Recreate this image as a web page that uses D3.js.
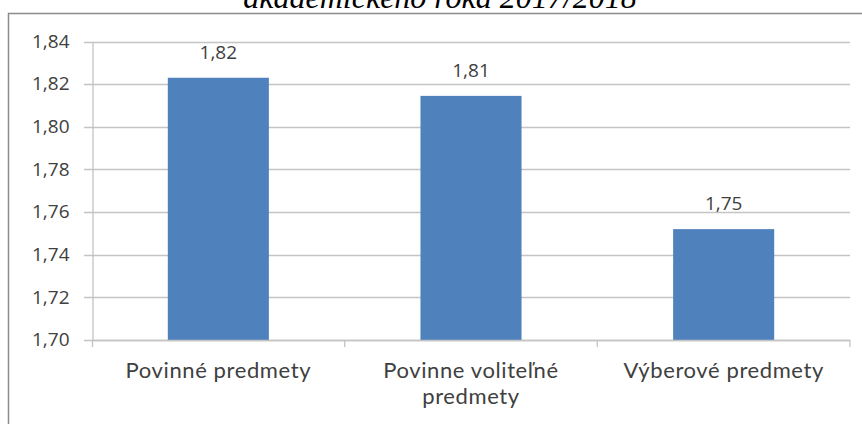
<!DOCTYPE html>
<html><head><meta charset="utf-8">
<script src="https://cdn.jsdelivr.net/npm/d3@7"></script>
<style>body{margin:0;background:#fff}svg{display:block}</style>
</head><body>
<svg id="c" width="862" height="424"></svg>
<script>
const categories = [["Povinné predmety"], ["Povinne voliteľné", "predmety"], ["Výberové predmety"]];
const values = [1.823, 1.8145, 1.752];
const valueLabels = ["1,82", "1,81", "1,75"];
const yTicks = [1.70, 1.72, 1.74, 1.76, 1.78, 1.80, 1.82, 1.84];
const title = "akademického roka 2017/2018";

const svg = d3.select("#c");
const fmt = d => d.toFixed(2).replace(".", ",");
const mLeft = 92, mRight = 850, mTop = 41.5, mBottom = 340;
const font = "'Open Sans', sans-serif";
const x = d3.scaleBand().domain(d3.range(values.length)).range([mLeft, mRight]).paddingInner(0.6).paddingOuter(0.3);
const y = d3.scaleLinear().domain([1.70, 1.84]).range([mBottom, mTop]);

// title (cropped at top)
svg.append("text").attr("x", 440).attr("y", 7.5).attr("text-anchor", "middle")
  .attr("font-family", "Liberation Serif").attr("font-style", "italic").attr("font-size", 32)
  .attr("fill", "#000").text(title);

// chart border
svg.append("path").attr("d", `M8.5,424 V13.5 H862`).attr("fill", "none").attr("stroke", "#8c8c8c").attr("stroke-width", 1.5);

// gridlines
svg.append("g").selectAll("line").data(yTicks).join("line")
  .attr("x1", 84).attr("x2", mRight).attr("y1", d => Math.round(y(d)) + 0.5).attr("y2", d => Math.round(y(d)) + 0.5)
  .attr("stroke", "#c4c4c4").attr("stroke-width", 1.3);

// y axis
const ya = svg.append("g").attr("transform", `translate(${mLeft + 0.5},0)`)
  .call(d3.axisLeft(y).tickValues(yTicks).tickFormat(fmt).tickSize(0).tickPadding(23));
ya.select(".domain").attr("stroke", "#c4c4c4").attr("stroke-width", 1.3);
ya.selectAll("text").attr("font-family", font).attr("font-size", 19).attr("fill", "#404040").attr("dy", "0.3em");

// bars
svg.append("g").selectAll("rect").data(values).join("rect")
  .attr("x", (d, i) => x(i)).attr("width", x.bandwidth())
  .attr("y", d => y(d)).attr("height", d => mBottom - y(d)).attr("fill", "#4f81bd");

// x axis
const xb = d3.scaleBand().domain(d3.range(values.length)).range([mLeft, mRight]);
svg.append("line").attr("x1", mLeft).attr("x2", mRight).attr("y1", mBottom + 0.5).attr("y2", mBottom + 0.5)
  .attr("stroke", "#c4c4c4").attr("stroke-width", 1.3);
svg.append("g").selectAll("line").data(d3.range(values.length + 1)).join("line")
  .attr("x1", i => i === 0 ? mLeft + 0.5 : xb(i - 1) + xb.bandwidth()).attr("x2", i => i === 0 ? mLeft + 0.5 : xb(i - 1) + xb.bandwidth())
  .attr("y1", mBottom).attr("y2", mBottom + 7).attr("stroke", "#c4c4c4").attr("stroke-width", 1.3);

// category labels
const cl = svg.append("g").selectAll("text").data(categories).join("text")
  .attr("text-anchor", "middle").attr("font-family", "Lato, 'Open Sans', sans-serif").attr("font-size", 22)
  .attr("letter-spacing", 0.6).attr("fill", "#404040");
cl.each(function(lines, i) {
  d3.select(this).selectAll("tspan").data(lines).join("tspan")
    .attr("x", xb(i) + xb.bandwidth() / 2).attr("y", (d, j) => 378 + j * 26).text(d => d);
});

// value labels
svg.append("g").selectAll("text").data(values).join("text")
  .attr("x", (d, i) => x(i) + x.bandwidth() / 2).attr("y", d => y(d) - 19)
  .attr("text-anchor", "middle").attr("font-family", font).attr("font-size", 19).attr("fill", "#404040")
  .text((d, i) => valueLabels[i]);
</script>
</body></html>
